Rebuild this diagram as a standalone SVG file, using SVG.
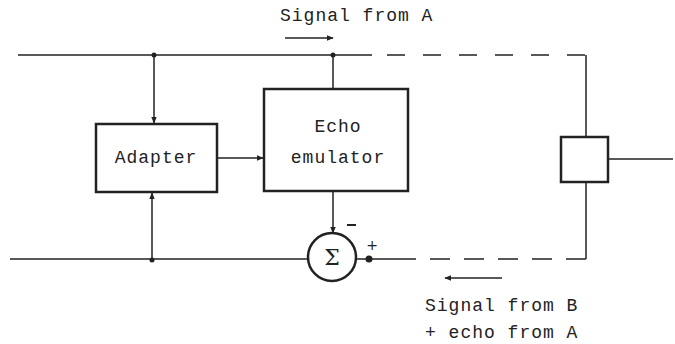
<svg xmlns="http://www.w3.org/2000/svg" width="675" height="344" viewBox="0 0 675 344">
<style>
.t{font-family:"Liberation Mono","Courier New",monospace;font-size:18px;fill:#222;letter-spacing:1px}
.box{fill:#fff;stroke:#222;stroke-width:2.5}
.ln{fill:none;stroke:#222;stroke-width:1.5}
.dash{fill:none;stroke:#222;stroke-width:1.5;stroke-dasharray:18,18}
</style>
<defs>
<marker id="ah" viewBox="0 0 10 10" refX="9" refY="5" markerWidth="7" markerHeight="7" orient="auto" markerUnits="userSpaceOnUse"><path d="M0,1 L10,5 L0,9 z" fill="#222"/></marker>
</defs>
<rect width="675" height="344" fill="#fff"/>
<g id="connectors">
<path class="ln" d="M18,55 H372"/>
<path class="dash" d="M387,55 H586"/>
<path class="ln" d="M586,55 V137"/>
<path class="ln" d="M586,182 V259"/>
<path class="dash" d="M586,259 H412" style="stroke-dasharray:20,14"/>
<path class="ln" d="M412,259 H368"/>
<path class="ln" d="M368,259 H357"/>
<path class="ln" d="M10,259 H308"/>
<path class="ln" d="M154,55 V123" marker-end="url(#ah)"/>
<path class="ln" d="M152,259 V193" marker-end="url(#ah)"/>
<path class="ln" d="M217,158 H263" marker-end="url(#ah)"/>
<path class="ln" d="M333,55 V89"/>
<path class="ln" d="M333,191 V233" marker-end="url(#ah)"/>
<path class="ln" d="M608,159 H673"/>
<circle cx="154" cy="55" r="2.5" fill="#222"/>
<circle cx="333" cy="55" r="2.5" fill="#222"/>
<circle cx="152" cy="260" r="2.5" fill="#222"/>
<circle cx="369" cy="259" r="3.5" fill="#222"/>
<path class="ln" d="M285,38 H333" marker-end="url(#ah)"/>
<path class="ln" d="M502,278 H445" marker-end="url(#ah)"/>
</g>
<g id="adapter">
<rect class="box" x="96" y="124" width="121" height="68"/>
<text class="t" x="156" y="163" text-anchor="middle">Adapter</text>
</g>
<g id="echo-emulator">
<rect class="box" x="264" y="89" width="144" height="102"/>
<text class="t" x="338" y="132" text-anchor="middle">Echo</text>
<text class="t" x="338" y="163" text-anchor="middle">emulator</text>
</g>
<g id="sum">
<circle cx="332" cy="257" r="24" fill="#fff" stroke="#222" stroke-width="2.5"/>
<text x="332" y="265" text-anchor="middle" style="font-family:'DejaVu Serif',serif;font-size:22px;fill:#222">Σ</text>
<path d="M347,225 H356" stroke="#222" stroke-width="2"/>
<text x="372" y="250" text-anchor="middle" style="font-family:'DejaVu Sans',sans-serif;font-size:14px;fill:#222">+</text>
</g>
<g id="hybrid">
<rect class="box" x="561" y="137" width="47" height="45"/>
</g>
<g id="labels">
<text class="t" x="280" y="21">Signal from A</text>
<text class="t" x="425" y="311">Signal from B</text>
<text class="t" x="425" y="338">+ echo from A</text>
</g>
</svg>
